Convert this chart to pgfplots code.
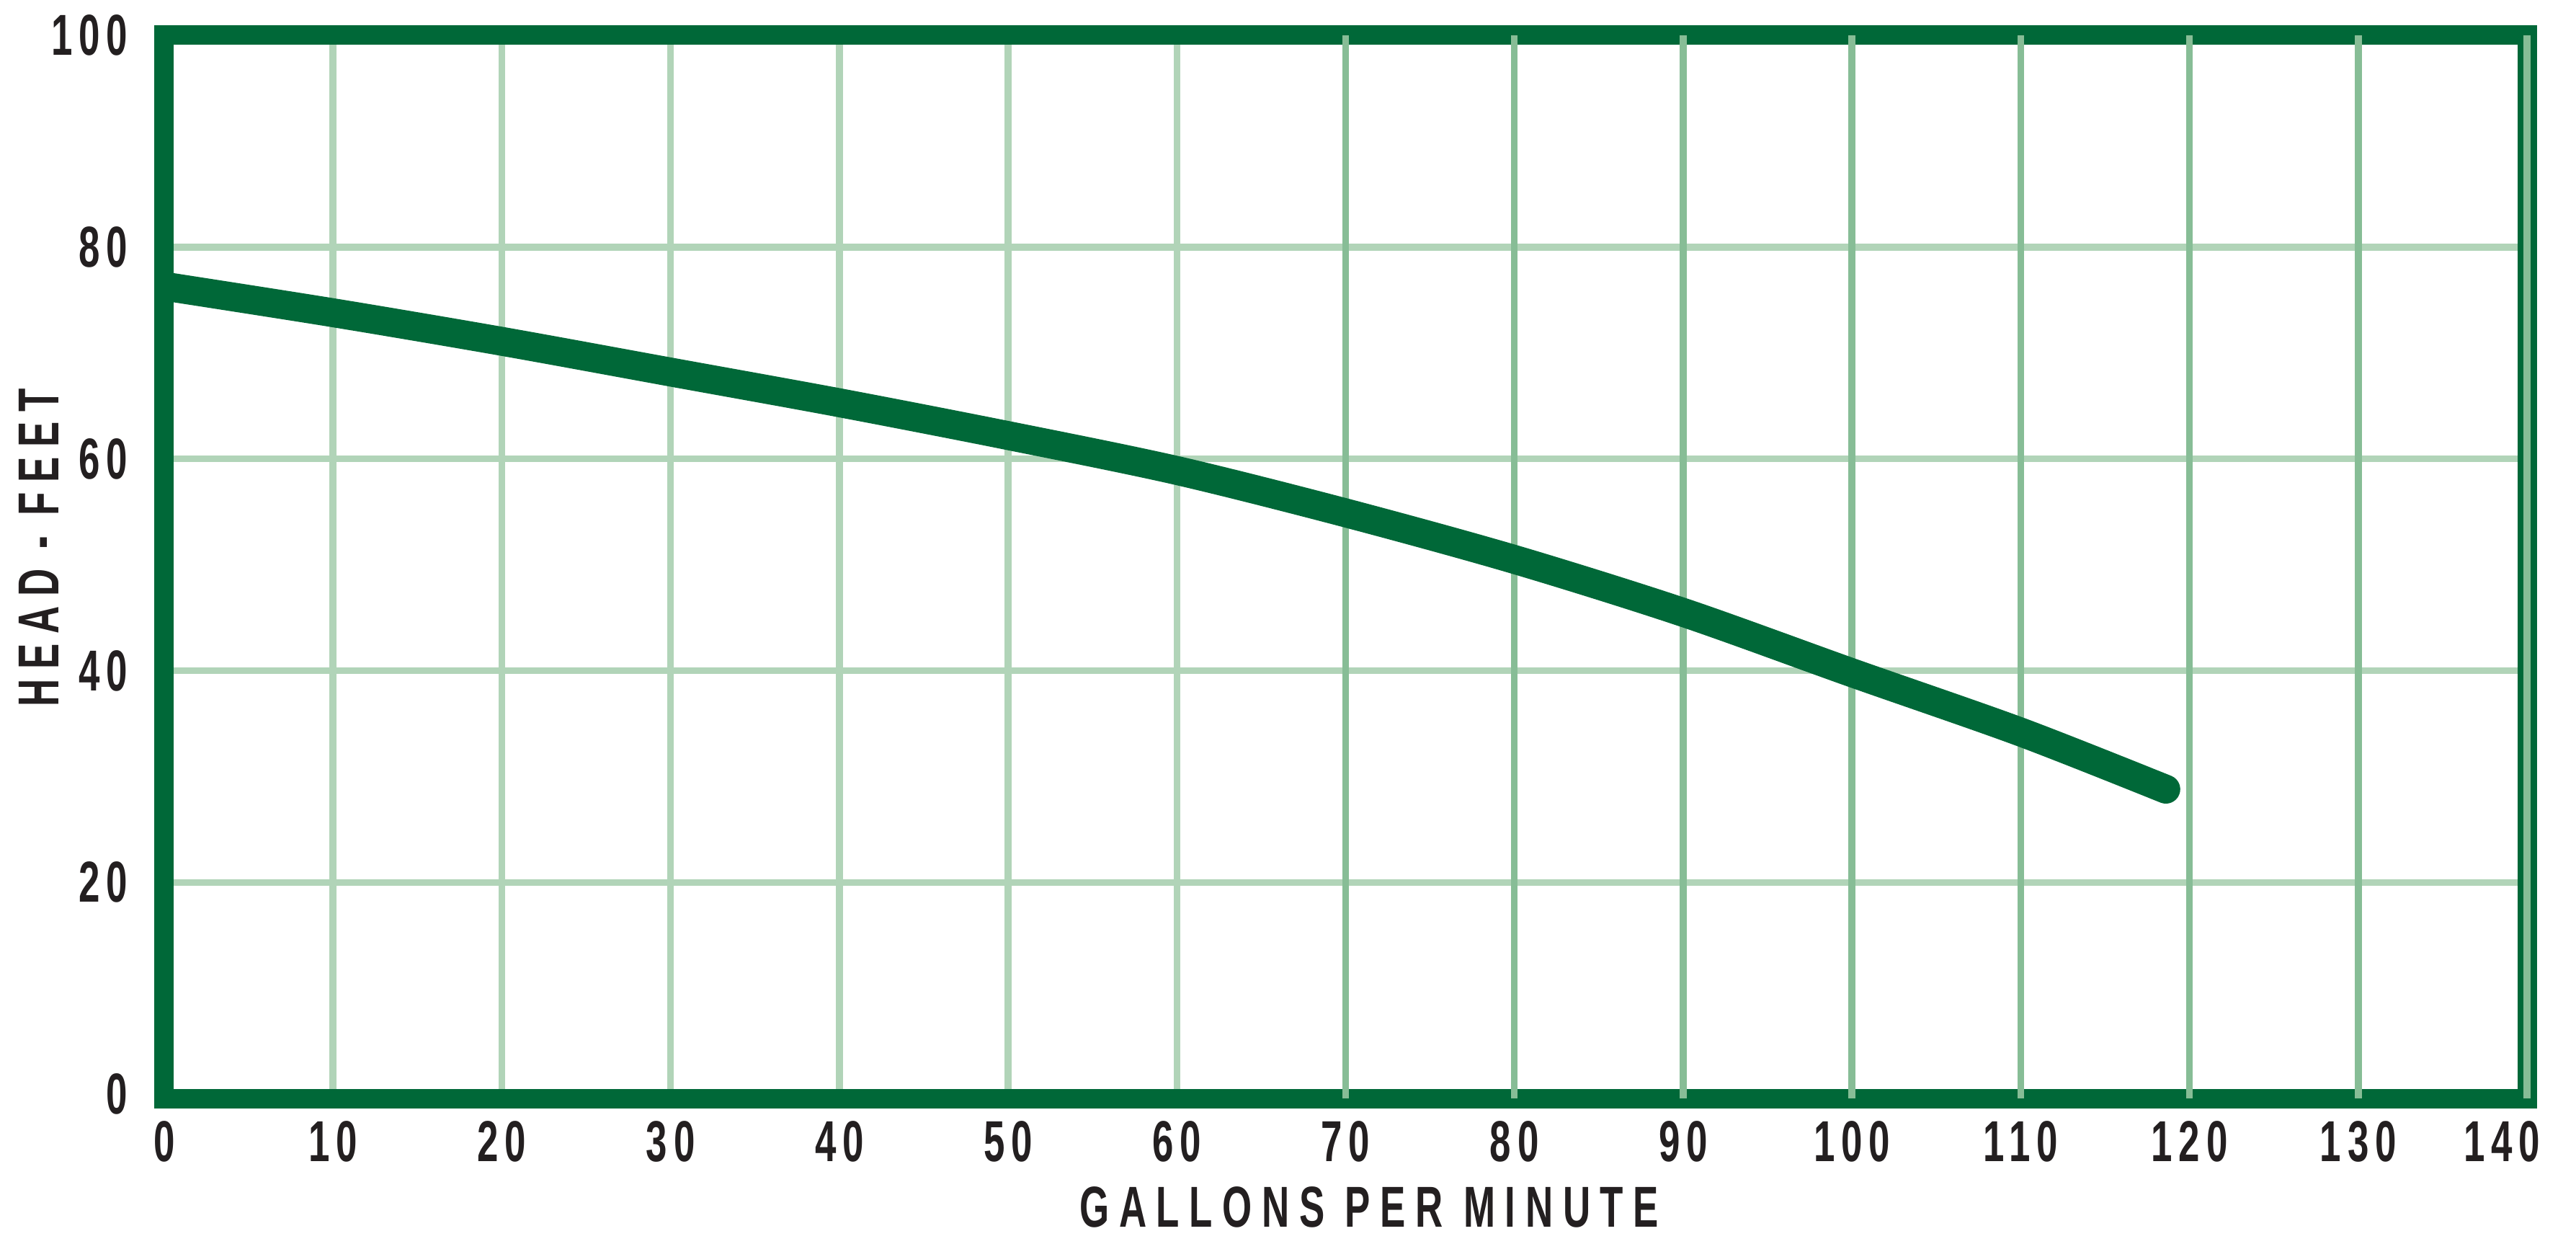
\documentclass[border=0pt]{standalone}
\usepackage{fontspec}
\usepackage{pgfplots}
\pgfplotsset{compat=1.18}

% condensed, spaced-out lettering like the original
\newfontfamily\tickfont[FakeStretch=0.66,LetterSpace=11]{Liberation Sans}
\newfontfamily\labelfont[FakeStretch=0.66,LetterSpace=17]{Liberation Sans}

\definecolor{pumpgreen}{RGB}{0,104,56}
\definecolor{gridlight}{RGB}{177,212,184}
\definecolor{griddark}{RGB}{135,189,150}
\definecolor{ink}{RGB}{35,31,32}

\begin{document}
\begin{tikzpicture}
	\useasboundingbox (0,0) rectangle (357.5mm,172.5mm);
	\begin{axis}[
		at={(22.8mm,20.1mm)}, anchor=south west,
		width=327.9mm, height=147.5mm,
		scale only axis,
		xmin=0, xmax=140,
		ymin=-0.4, ymax=100,
		xtick={0,10,...,60},
		extra x ticks={70,80,...,140},
		extra x tick labels={70,80,90,100,110,120,130,140\hspace*{7mm}},
		extra x tick style={grid style={griddark, line width=0.95mm}},
		ytick={0,20,...,100},
		grid=major,
		grid style={gridlight, line width=0.95mm},
		major tick length=0pt,
		axis line style={pumpgreen, line width=2.7mm, line join=miter},
		/pgf/number format/assume math mode=true,
		tick label style={font=\tickfont\bfseries\fontsize{22.8}{26}\selectfont, text=ink},
		xticklabel style={anchor=north, inner sep=0pt, yshift=-3.1mm},
		yticklabel style={anchor=east, inner sep=0pt, xshift=-5.0mm},
		label style={font=\labelfont\bfseries\fontsize{22.8}{26}\selectfont, text=ink, inner sep=0pt},
		xlabel={GALLONS PER MINUTE},
		ylabel={HEAD - FEET},
		xlabel style={at={(axis description cs:0.51,-0.0827)}, anchor=north},
		ylabel style={at={(axis description cs:-0.0531,0.518)}, anchor=center},
		]
		% pump curve
		\addplot[pumpgreen, line width=4mm, line cap=round, smooth] coordinates {
				(0, 76.3)
				(10, 73.8)
				(20, 71.1)
				(30, 68.2)
				(40, 65.3)
				(50, 62.2)
				(60, 58.9)
				(70, 54.9)
				(80, 50.5)
				(90, 45.5)
				(100, 39.8)
				(110, 34.2)
				(118.6, 28.8)
			};
	\end{axis}
\end{tikzpicture}
\end{document}
